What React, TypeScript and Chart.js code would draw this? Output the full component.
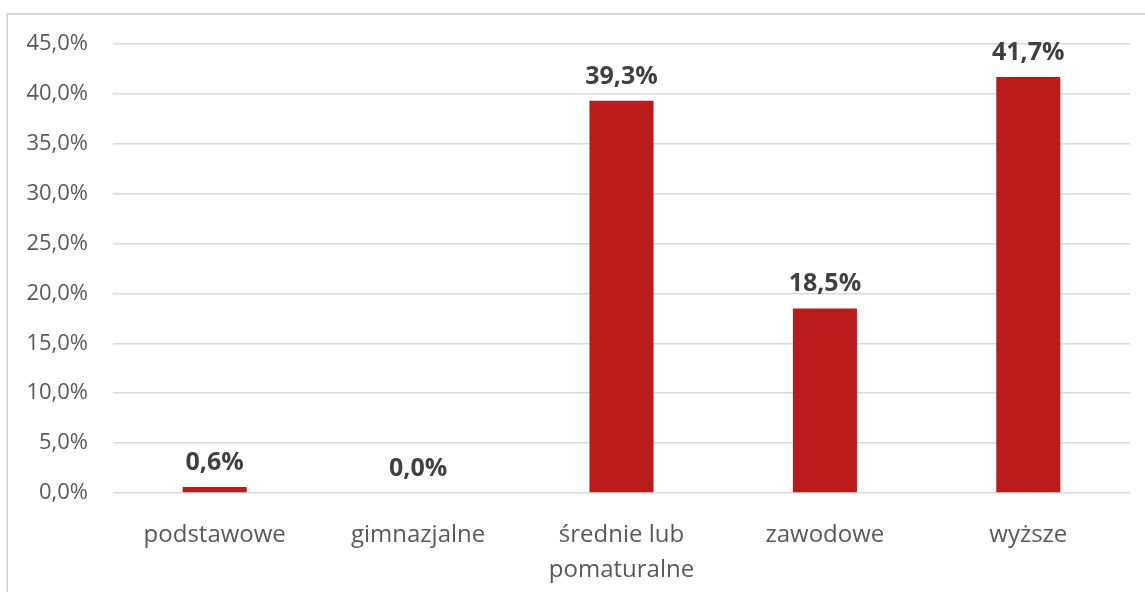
import React, { useEffect, useRef } from "react";
import { Chart, registerables } from "chart.js";

Chart.register(...registerables);

const categories: (string | string[])[] = [
  "podstawowe",
  "gimnazjalne",
  ["średnie lub", "pomaturalne"],
  "zawodowe",
  "wyższe",
];
const values: number[] = [0.6, 0.0, 39.3, 18.5, 41.7];
const yTicks: number[] = [0, 5, 10, 15, 20, 25, 30, 35, 40, 45];

const FONT = "'Open Sans', 'Noto Sans', sans-serif";
const fmt = (v: number) => v.toFixed(1).replace(".", ",") + "%";

const dataLabels = {
  id: "dataLabels",
  afterDatasetsDraw(chart: any) {
    const ctx = chart.ctx;
    const meta = chart.getDatasetMeta(0);
    ctx.save();
    ctx.font = `bold 25px ${FONT}`;
    ctx.fillStyle = "#404040";
    ctx.textAlign = "center";
    ctx.textBaseline = "alphabetic";
    meta.data.forEach((bar: any, i: number) => {
      ctx.fillText(fmt(values[i]), bar.x, bar.y - 17);
    });
    ctx.restore();
  },
};

export default function App() {
  const ref = useRef<HTMLCanvasElement>(null);
  useEffect(() => {
    if (!ref.current) return;
    const chart = new Chart(ref.current, {
      type: "bar",
      data: {
        labels: categories,
        datasets: [
          {
            data: values,
            backgroundColor: "#BA1C1C",
            barPercentage: 0.315,
            categoryPercentage: 1,
          },
        ],
      },
      options: {
        animation: false,
        responsive: false,
        layout: { padding: { left: 0, right: 15, top: 44, bottom: 0 } },
        plugins: { legend: { display: false }, tooltip: { enabled: false } },
        scales: {
          x: {
            grid: { display: false, drawTicks: false },
            border: { display: false },
            ticks: {
              color: "#595959",
              font: { family: FONT, size: 24, lineHeight: "35px" } as any,
              padding: 25,
              maxRotation: 0,
              autoSkip: false,
            },
            afterFit(axis: any) {
              axis.height = 99;
            },
          },
          y: {
            min: 0,
            max: 45,
            afterBuildTicks(axis: any) {
              axis.ticks = yTicks.map((v) => ({ value: v }));
            },
            grid: { color: "#d9d9d9", lineWidth: 1.5, drawTicks: false },
            border: { display: false },
            ticks: {
              color: "#595959",
              font: { family: FONT, size: 22 },
              padding: 25,
              callback: (v: any) => fmt(Number(v)),
            },
            afterFit(axis: any) {
              axis.width = 113;
            },
          },
        },
      },
      plugins: [dataLabels],
    });
    return () => chart.destroy();
  }, []);

  return (
    <div
      style={{
        position: "fixed",
        left: 0,
        top: 0,
        width: 1145,
        height: 592,
        background: "#fff",
        overflow: "hidden",
      }}
    >
      <div
        style={{
          position: "absolute",
          left: 6,
          top: 13,
          width: 1300,
          height: 800,
          border: "2px solid #d9d9d9",
        }}
      />
      <canvas
        ref={ref}
        width={1145}
        height={592}
        style={{ position: "absolute", left: 0, top: 0 }}
      />
    </div>
  );
}
